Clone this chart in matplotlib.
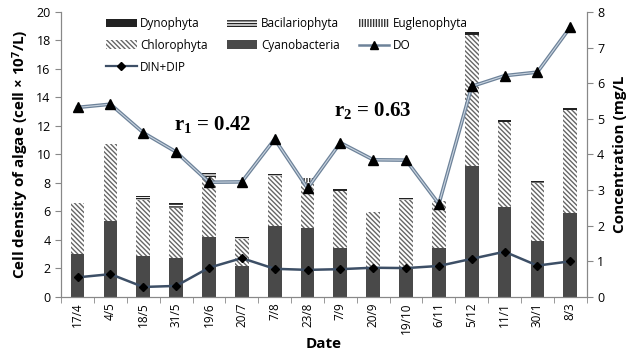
import matplotlib; matplotlib.use("Agg")
import matplotlib.pyplot as plt
import numpy as np

# ---- data ----
dates = ["17/4", "4/5", "18/5", "31/5", "19/6", "20/7", "7/8", "23/8",
         "7/9", "20/9", "19/10", "6/11", "5/12", "11/1", "30/1", "8/3"]
cyano  = [3.0, 5.3, 2.9, 2.75, 4.2, 2.2, 5.0, 4.85, 3.45, 1.95, 1.95, 3.4, 9.2, 6.3, 3.9, 5.9]
chloro = [3.6, 5.4, 3.9, 3.5, 4.2, 1.9, 3.5, 3.25, 4.0, 4.0, 4.85, 3.3, 9.2, 5.95, 4.1, 7.2]
eugleno = [0, 0, 0, 0, 0, 0, 0, 0.22, 0, 0, 0, 0, 0, 0, 0, 0]
bacil  = [0, 0, 0.2, 0.25, 0.2, 0.05, 0.05, 0, 0.05, 0, 0.05, 0, 0.05, 0.05, 0.05, 0.05]
dyno   = [0, 0, 0.1, 0.1, 0.1, 0.06, 0.1, 0.06, 0.1, 0, 0.1, 0, 0.12, 0.1, 0.08, 0.08]
do_conc = [5.32, 5.41, 4.61, 4.07, 3.22, 3.23, 4.43, 3.05, 4.33, 3.85, 3.84, 2.61, 5.91, 6.21, 6.31, 7.57]
din_dip = [0.55, 0.64, 0.28, 0.31, 0.82, 1.09, 0.79, 0.76, 0.78, 0.82, 0.81, 0.87, 1.07, 1.27, 0.88, 1.0]

plt.rcParams["font.family"] = ["Open Sans", "DejaVu Sans"]
plt.rcParams["hatch.linewidth"] = 1.0
plt.rcParams["mathtext.fontset"] = "custom"
plt.rcParams["mathtext.rm"] = "Liberation Serif:bold"
plt.rcParams["mathtext.it"] = "Liberation Serif:bold"

fig = plt.figure(figsize=(6.44, 3.51), dpi=100)
ax = fig.add_axes([0.095, 0.154, 0.816, 0.812])
ax2 = ax.twinx()

x = np.arange(len(dates))
w = 0.42
b1 = np.array(cyano)
b2 = b1 + np.array(chloro)
b3 = b2 + np.array(eugleno)
b4 = b3 + np.array(bacil)
h_cy = ax.bar(x, cyano, w, color="#494949", edgecolor="#494949", lw=0, label="Cyanobacteria")
h_ch = ax.bar(x, chloro, w, bottom=b1, color="white", edgecolor="#666666", hatch="\\\\\\\\\\\\\\", lw=0, label="Chlorophyta")
h_eu = ax.bar(x, eugleno, w, bottom=b2, color="white", edgecolor="#333333", hatch="||||||", lw=0, label="Euglenophyta")
h_ba = ax.bar(x, bacil, w, bottom=b3, color="white", edgecolor="#222222", hatch="------", lw=0, label="Bacilariophyta")
h_dy = ax.bar(x, dyno, w, bottom=b4, color="#222222", edgecolor="#222222", hatch="xxxx", lw=0, label="Dynophyta")

# DO drawn as a double line (dark edge + pale core)
ax2.plot(x, do_conc, color="#6d8299", lw=2.6, zorder=3)
ax2.plot(x, do_conc, color="#c9d4e0", lw=0.8, zorder=4)
ax2.plot(x, do_conc, ls="none", marker="^", ms=7, color="black", zorder=5)
h_do, = ax2.plot([], [], color="#6d8299", lw=1.8, marker="^", ms=6, mfc="black", mec="black", label="DO")
ax2.plot(x, din_dip, color="#3d4f66", lw=1.8, marker="D", ms=4, mfc="black", mec="black", zorder=5)
h_din, = ax2.plot([], [], color="#3d4f66", lw=1.6, marker="D", ms=4, mfc="black", mec="black", label="DIN+DIP")

ax.set_xlim(-0.5, len(dates) - 0.5)
ax.set_ylim(0, 20)
ax2.set_ylim(0, 8)
ax.set_yticks(range(0, 21, 2))
ax2.set_yticks(range(0, 9))
ax.set_xticks(x)
ax.set_xticklabels(dates, rotation=90, fontsize=8.5)
ax.tick_params(axis="x", length=0, pad=4)
ax.set_xticks(np.arange(-0.5, len(dates), 1), minor=True)
ax.tick_params(axis="x", which="minor", length=4, color="#888888")
ax.tick_params(axis="y", labelsize=9, length=4, color="#888888")
ax2.tick_params(axis="y", labelsize=9, length=4, color="#888888")

for a in (ax, ax2):
    a.spines["top"].set_visible(False)
    for s in ("left", "right", "bottom"):
        a.spines[s].set_color("#888888")

ax.set_ylabel("Cell density of algae (cell × 10$^{\\mathregular{7}}$/L)", fontsize=11, fontweight="bold", labelpad=4)
ax2.set_ylabel("Concentration (mg/L", fontsize=11, fontweight="bold", labelpad=6)
ax.set_xlabel("Date", fontsize=11, fontweight="bold", labelpad=2)

serif = dict(fontsize=15, ha="center", va="center", family="Liberation Serif", fontweight="bold")
ax.text(4.1, 12.1, "r$_1$ = 0.42", **serif)
ax.text(9.0, 13.1, "r$_2$ = 0.63", **serif)

handles = [h_dy, h_ch, h_din, h_ba, h_cy, h_eu, h_do]
ax.legend(handles=handles, labels=[h.get_label() for h in handles], ncol=3, loc="upper left",
          bbox_to_anchor=(0.065, 1.02), frameon=False, fontsize=8.5, handlelength=2.6,
          handletextpad=0.3, columnspacing=1.6, labelspacing=0.75)

fig.savefig("out.png", dpi=100)
